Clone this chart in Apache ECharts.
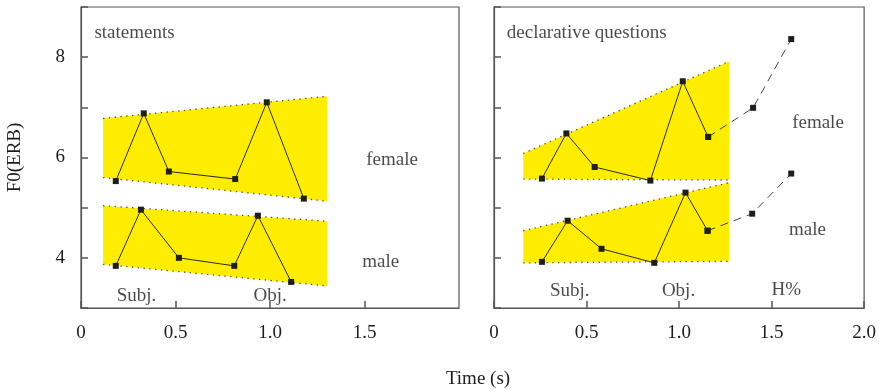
<!DOCTYPE html>
<html>
<head>
<meta charset="utf-8">
<script src="https://cdn.jsdelivr.net/npm/echarts@6/dist/echarts.min.js"></script>
<style>
  html, body { margin: 0; padding: 0; background: #fff; }
  #chart { width: 879px; height: 390px; }
</style>
</head>
<body>
<div id="chart"></div>
<script>
// F0 contours (ERB) over time (s): statements vs. declarative questions
const tStmtFemale = [0.184, 0.332, 0.465, 0.816, 0.983, 1.179];
const f0StmtFemale = [5.53, 6.88, 5.72, 5.57, 7.10, 5.18];
const tStmtMale = [0.184, 0.317, 0.518, 0.811, 0.936, 1.112];
const f0StmtMale = [3.84, 4.96, 4.00, 3.84, 4.84, 3.52];

const tQuesFemale = [0.259, 0.391, 0.544, 0.845, 1.020, 1.157];
const f0QuesFemale = [5.58, 6.48, 5.81, 5.54, 7.52, 6.41];
const tQuesFemaleTail = [1.157, 1.400, 1.606];
const f0QuesFemaleTail = [6.41, 6.99, 8.36];
const tQuesMale = [0.259, 0.398, 0.581, 0.866, 1.035, 1.154];
const f0QuesMale = [3.92, 4.74, 4.18, 3.90, 5.30, 4.54];
const tQuesMaleTail = [1.154, 1.395, 1.606];
const f0QuesMaleTail = [4.54, 4.88, 5.68];

// pitch range bands: [tStart, tEnd, topStart, topEnd, bottomStart, bottomEnd]
const bandsStatements = [
  [0.117, 1.302, 6.78, 7.22, 5.60, 5.13],
  [0.117, 1.302, 5.04, 4.73, 3.87, 3.44]
];
const bandsQuestions = [
  [0.158, 1.272, 6.08, 7.92, 5.57, 5.55],
  [0.158, 1.272, 4.54, 5.50, 3.90, 3.93]
];

const xTicks = [0, 0.5, 1.0, 1.5, 2.0];
const yTicks = [4, 6, 8];

// text annotations in data space: [t, f0, text, align]
const notesStatements = [
  [0.071, 8.49, 'statements', 'left'],
  [1.509, 5.95, 'female', 'left'],
  [1.488, 3.92, 'male', 'left'],
  [0.294, 3.23, 'Subj.', 'center'],
  [1.001, 3.23, 'Obj.', 'center']
];
const notesQuestions = [
  [0.069, 8.49, 'declarative questions', 'left'],
  [1.611, 6.68, 'female', 'left'],
  [1.594, 4.55, 'male', 'left'],
  [0.409, 3.33, 'Subj.', 'center'],
  [0.997, 3.33, 'Obj.', 'center'],
  [1.580, 3.36, 'H%', 'center']
];

const FONT = 'Liberation Serif';
const FS = 19;
const TXT = '#1c1c1c';
const AX = '#555';
const zip = (a, b) => a.map((v, i) => [v, b[i]]);

function bandSeries(bands, idx) {
  return {
    type: 'custom',
    xAxisIndex: idx, yAxisIndex: idx,
    z: 1,
    silent: true,
    encode: { x: [0, 1], y: [2, 3, 4, 5] },
    data: bands,
    renderItem: function (params, api) {
      const tl = api.coord([api.value(0), api.value(2)]);
      const tr = api.coord([api.value(1), api.value(3)]);
      const br = api.coord([api.value(1), api.value(5)]);
      const bl = api.coord([api.value(0), api.value(4)]);
      const edge = { stroke: '#4a4a4a', lineWidth: 1.3, lineDash: [1.3, 4.5], fill: null };
      return {
        type: 'group',
        children: [
          { type: 'polygon', shape: { points: [tl, tr, br, bl] }, style: { fill: '#ffed00', stroke: null } },
          { type: 'polyline', shape: { points: [tl, tr] }, style: edge },
          { type: 'polyline', shape: { points: [bl, br] }, style: edge }
        ]
      };
    }
  };
}

function contour(t, f0, idx) {
  return {
    type: 'line', xAxisIndex: idx, yAxisIndex: idx, z: 3,
    data: zip(t, f0),
    symbol: 'rect', symbolSize: 6,
    itemStyle: { color: '#1e1e1e' },
    lineStyle: { color: '#2a2a2a', width: 1 },
    animation: false, silent: true
  };
}

function tail(t, f0, idx) {
  return {
    type: 'line', xAxisIndex: idx, yAxisIndex: idx, z: 2,
    data: zip(t, f0),
    symbol: 'rect', symbolSize: 6,
    itemStyle: { color: '#1e1e1e' },
    lineStyle: { color: '#444', width: 1, type: [8, 6] },
    animation: false, silent: true
  };
}

function notes(list, idx) {
  return {
    type: 'scatter', xAxisIndex: idx, yAxisIndex: idx, z: 5,
    symbolSize: 0, silent: true, animation: false,
    data: list.map(n => ({ value: [n[0], n[1]], name: n[2],
      label: { align: n[3] } })),
    label: {
      show: true, position: 'inside', formatter: p => p.name,
      fontFamily: FONT, fontSize: FS, color: TXT, verticalAlign: 'middle'
    }
  };
}

function xAxis(idx, showLast) {
  return {
    type: 'value', gridIndex: idx, min: 0, max: 2, interval: 0.5,
    axisLine: { show: true, lineStyle: { color: AX, width: 1.2 } },
    axisTick: { show: true, inside: true, length: 7, lineStyle: { color: AX, width: 1.5 } },
    splitLine: { show: false },
    axisLabel: {
      fontFamily: FONT, fontSize: FS, color: TXT, margin: 16,
      showMaxLabel: showLast,
      formatter: v => xTicks.includes(v) ? (v === 0 ? '0' : v.toFixed(1)) : ''
    }
  };
}

function yAxis(idx, labels) {
  return {
    type: 'value', gridIndex: idx, min: 3, max: 9, interval: 1,
    axisLine: { show: true, lineStyle: { color: AX, width: 1.2 } },
    axisTick: { show: true, inside: true, length: 7, lineStyle: { color: AX, width: 1.5 } },
    splitLine: { show: false },
    axisLabel: {
      show: labels, fontFamily: FONT, fontSize: FS, color: TXT, margin: 16,
      formatter: v => yTicks.includes(v) ? String(v) : ''
    },
    name: labels ? 'F0(ERB)' : '',
    nameLocation: 'middle', nameGap: 56,
    nameTextStyle: { fontFamily: FONT, fontSize: FS, color: TXT }
  };
}

const chart = echarts.init(document.getElementById('chart'), null, { renderer: 'canvas' });
chart.setOption({
  animation: false,
  backgroundColor: '#fff',
  grid: [
    { left: 81, top: 7, width: 378, height: 301, show: true, borderColor: AX, borderWidth: 1.2 },
    { left: 494, top: 7, width: 379, height: 301, show: true, borderColor: AX, borderWidth: 1.2 }
  ],
  xAxis: [xAxis(0, false), xAxis(1, true)],
  yAxis: [yAxis(0, true), yAxis(1, false)],
  graphic: [{
    type: 'text', x: 478, y: 379,
    style: { text: 'Time (s)', fontFamily: FONT, fontSize: FS, fill: TXT,
             align: 'center', verticalAlign: 'middle' }
  }],
  series: [
    bandSeries(bandsStatements, 0),
    bandSeries(bandsQuestions, 1),
    contour(tStmtFemale, f0StmtFemale, 0),
    contour(tStmtMale, f0StmtMale, 0),
    tail(tQuesFemaleTail, f0QuesFemaleTail, 1),
    tail(tQuesMaleTail, f0QuesMaleTail, 1),
    contour(tQuesFemale, f0QuesFemale, 1),
    contour(tQuesMale, f0QuesMale, 1),
    notes(notesStatements, 0),
    notes(notesQuestions, 1)
  ]
});
</script>
</body>
</html>
